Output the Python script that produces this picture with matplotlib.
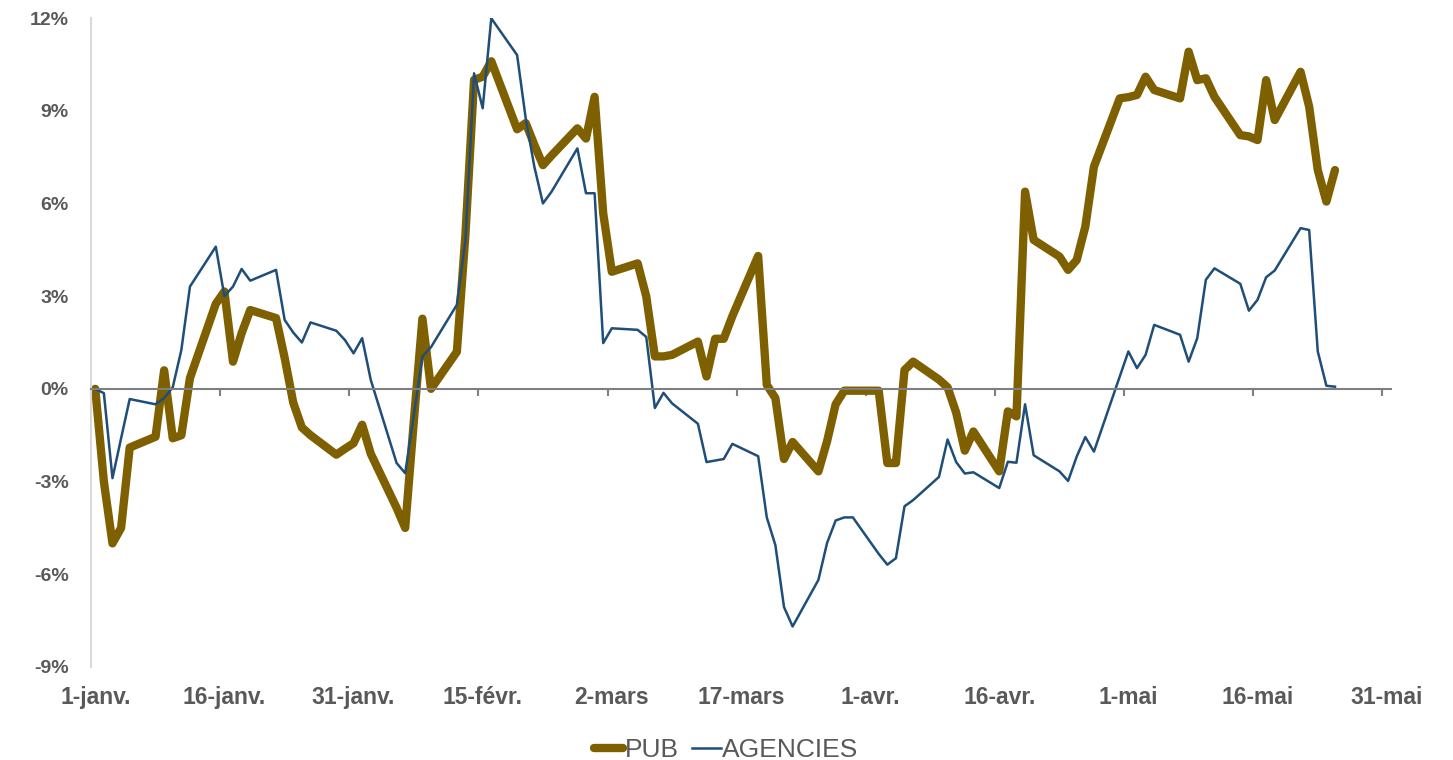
import matplotlib
matplotlib.use("Agg")
import matplotlib.pyplot as plt
import pandas as pd

plt.rcParams["font.family"] = ["Liberation Sans", "DejaVu Sans"]

# business days, 1 Jan 2018 -> 25 May 2018
dates = pd.bdate_range("2018-01-01", "2018-05-25")

pub = [
    0.0, -3.0, -5.0, -4.5, -1.9,
    -1.55, 0.6, -1.6, -1.5, 0.35,
    2.75, 3.15, 0.88, 1.8, 2.55,
    2.29, 1.0, -0.45, -1.25, -1.5,
    -2.13, -1.94, -1.76, -1.16, -2.1,
    -3.85, -4.5, -1.05, 2.27, 0.0,
    1.2, 5.0, 10.0, 10.1, 10.6,
    8.4, 8.6, 7.9, 7.24, 7.55,
    8.43, 8.1, 9.45, 5.68, 3.79,
    4.06, 2.99, 1.05, 1.05, 1.1,
    1.53, 0.40, 1.62, 1.62, 2.35,
    4.3, 0.13, -0.3, -2.27, -1.72,
    -2.67, -1.7, -0.5, -0.06, -0.06,
    -0.06, -2.4, -2.4, 0.61, 0.88,
    0.3, 0.05, -0.77, -2.0, -1.38,
    -2.67, -0.73, -0.89, 6.38, 4.82,
    4.28, 3.85, 4.17, 5.25, 7.19,
    9.4, 9.44, 9.51, 10.1, 9.67,
    9.4, 10.91, 9.99, 10.05, 9.45,
    8.21, 8.17, 8.05, 9.99, 8.7,
    10.26, 9.13, 7.08, 6.06, 7.08,
]

agencies = [
    0.0, -0.14, -2.89, -1.6, -0.33,
    -0.5, -0.3, 0.05, 1.26, 3.31,
    4.6, 3.0, 3.31, 3.88, 3.5,
    3.85, 2.23, 1.82, 1.5, 2.15,
    1.88, 1.58, 1.15, 1.64, 0.29,
    -2.4, -2.73, -0.85, 1.05, 1.35,
    2.72, 4.82, 10.21, 9.08, 11.99,
    10.8, 8.75, 7.19, 6.0, 6.38,
    7.78, 6.33, 6.33, 1.48, 1.96,
    1.91, 1.68, -0.62, -0.13, -0.47,
    -1.13, -2.37, -2.32, -2.27, -1.78,
    -2.18, -4.16, -5.06, -7.06, -7.69,
    -6.18, -4.99, -4.26, -4.16, -4.16,
    -5.34, -5.69, -5.48, -3.8, -3.6,
    -2.85, -1.64, -2.37, -2.74, -2.7,
    -3.21, -2.36, -2.39, -0.5, -2.15,
    -2.67, -2.98, -2.19, -1.56, -2.03,
    0.4, 1.21, 0.67, 1.10, 2.07,
    1.75, 0.88, 1.64, 3.53, 3.90,
    3.40, 2.53, 2.88, 3.61, 3.83,
    5.20, 5.14, 1.21, 0.10, 0.07,
]

tick_dates = pd.date_range("2018-01-01", periods=11, freq="15D")
tick_labels = ["1-janv.", "16-janv.", "31-janv.", "15-févr.", "2-mars", "17-mars",
               "1-avr.", "16-avr.", "1-mai", "16-mai", "31-mai"]
yticks = [-9, -6, -3, 0, 3, 6, 9, 12]

gold = "#7F6000"
blue = "#1F4E79"
grey = "#595959"

fig = plt.figure(figsize=(14.53, 7.6), dpi=100)
ax = fig.add_axes([0.0626, 0.1224, 0.8947, 0.8539])

# points sit in the middle of each day, like Excel's date axis
xpos = dates + pd.Timedelta(hours=12)
ax.plot(xpos, pub, color=gold, lw=6, solid_joinstyle="round", solid_capstyle="round", label="PUB")
ax.plot(xpos, agencies, color=blue, lw=1.8, label="AGENCIES")

ax.set_xlim(pd.Timestamp("2018-01-01"), pd.Timestamp("2018-06-01"))
ax.set_ylim(-9, 12)

ax.spines["top"].set_visible(False)
ax.spines["right"].set_visible(False)
ax.spines["left"].set_color("#d9d9d9")
ax.spines["left"].set_linewidth(1.5)
ax.spines["bottom"].set_position(("data", 0))
ax.spines["bottom"].set_color("#7f7f7f")
ax.spines["bottom"].set_linewidth(1.5)

ax.set_xticks(tick_dates)
ax.tick_params(axis="x", direction="out", length=5, width=1.5, color="#7f7f7f", labelbottom=False)

ax.set_yticks(yticks)
ax.set_yticklabels([f"{v}%" for v in yticks])
ax.tick_params(axis="y", length=0, pad=16, labelsize=14, labelcolor=grey)
for t in ax.get_yticklabels():
    t.set_fontweight("bold")

sec = ax.secondary_xaxis("bottom")
sec.set_xticks(tick_dates + pd.Timedelta(hours=12))
sec.set_xticklabels(tick_labels)
sec.spines["bottom"].set_visible(False)
sec.tick_params(length=0, pad=14, labelsize=16.5, labelcolor=grey)
for t in sec.get_xticklabels():
    t.set_fontweight("bold")

fig.legend(loc="lower center", bbox_to_anchor=(0.5, -0.034), ncol=2, frameon=False,
           fontsize=19, handlelength=1.1, handletextpad=0.05, columnspacing=0.5,
           labelcolor=grey)

fig.savefig("out.png", dpi=100)
